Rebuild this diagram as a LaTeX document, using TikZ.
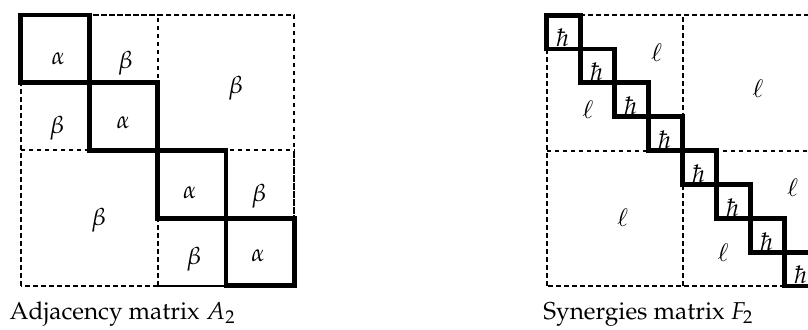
\documentclass[tikz,border=0pt]{standalone}
\usepackage[T1]{fontenc}
\usepackage{mathpazo}
\usepackage{amsmath}
\usepackage{tikz}

\tikzset{
  blockline/.style={dash pattern=on 2.3pt off 1.7pt, line width=1pt},
  diagbox/.style={line width=2.4pt},
  every node/.style={font=\fontsize{12.2}{14.6}\selectfont, inner sep=0.5pt},
}

\begin{document}
\begin{tikzpicture}[x=0.5pt,y=0.5pt]
    \clip (0,0) rectangle (808,329);
    % adjacency matrix
    \begin{scope}[shift={(20.8,43.2)},x=34.2pt,y=33.85pt]
      \draw[blockline,step=1] (0,2) grid (2,4);
      \draw[blockline,step=1] (2,0) grid (4,2);
      \draw[blockline] (0,0) rectangle (4,4);
      \draw[diagbox] (0,3) rectangle (1,4);
      \draw[diagbox] (1,2) rectangle (2,3);
      \draw[diagbox] (2,1) rectangle (3,2);
      \draw[diagbox] (3,0) rectangle (4,1);
      \node (a11) at (0.55,3.36) {$\alpha$};
      \node (a22) at (1.50,2.41) {$\alpha$};
      \node (a33) at (2.47,1.38) {$\alpha$};
      \node (a44) at (3.47,0.45) {$\alpha$};
      \node (b12) at (1.53,3.29) {$\beta$};
      \node (b21) at (0.53,2.33) {$\beta$};
      \node (b34) at (3.48,1.33) {$\beta$};
      \node (b43) at (2.53,0.40) {$\beta$};
      \node (bup) at (3.14,2.92) {$\beta$};
      \node (blo) at (1.14,0.97) {$\beta$};
    \end{scope}
    % synergies matrix
    \begin{scope}[shift={(546.8,43)},x=17pt,y=16.93pt]
      \draw[blockline] (0,0) rectangle (8,8);
      \draw[blockline] (4,0) -- (4,8);
      \draw[blockline] (0,4) -- (8,4);
      \draw[diagbox] (0,7) rectangle (1,8);
      \draw[diagbox] (1,6) rectangle (2,7);
      \draw[diagbox] (2,5) rectangle (3,6);
      \draw[diagbox] (3,4) rectangle (4,5);
      \draw[diagbox] (4,3) rectangle (5,4);
      \draw[diagbox] (5,2) rectangle (6,3);
      \draw[diagbox] (6,1) rectangle (7,2);
      \draw[diagbox] (7,0) rectangle (8,1);
      \node (h1) at (0.47,7.32) {$\hbar$};
      \node (h2) at (1.47,6.32) {$\hbar$};
      \node (h3) at (2.47,5.32) {$\hbar$};
      \node (h4) at (3.47,4.32) {$\hbar$};
      \node (h5) at (4.47,3.32) {$\hbar$};
      \node (h6) at (5.47,2.32) {$\hbar$};
      \node (h7) at (6.47,1.32) {$\hbar$};
      \node (h8) at (7.47,0.32) {$\hbar$};
      \node (l1up) at (3.23,6.88) {$\ell$};
      \node (l1lo) at (1.21,5.21) {$\ell$};
      \node (l2up) at (7.23,2.90) {$\ell$};
      \node (l2lo) at (5.19,0.99) {$\ell$};
      \node (lup) at (6.21,5.84) {$\ell$};
      \node (llo) at (2.23,2.02) {$\ell$};
    \end{scope}
    \node[anchor=base west] (capA) at (8.3,9.7) {Adjacency matrix $A_2$};
    \node[anchor=base west] (capF) at (542,9.7) {Synergies matrix $F_2$};
\end{tikzpicture}
\end{document}
